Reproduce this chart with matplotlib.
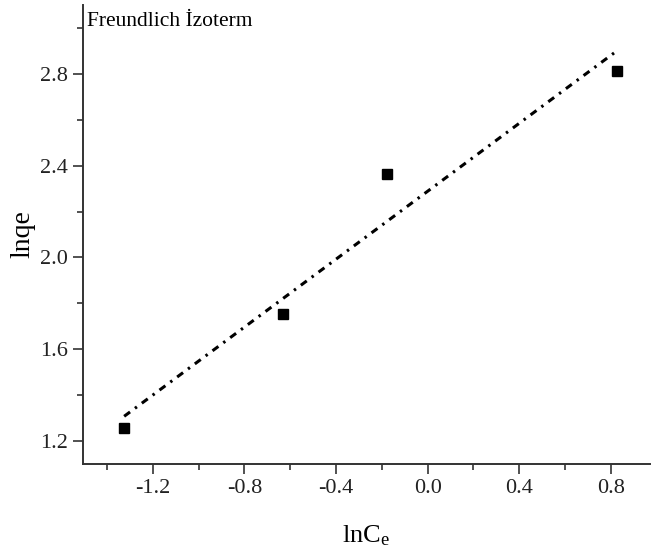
import matplotlib.pyplot as plt
import numpy as np

plt.rcParams['font.family'] = ['Liberation Serif', 'DejaVu Serif']
plt.rcParams['mathtext.fontset'] = 'custom'
plt.rcParams['mathtext.rm'] = 'Liberation Serif'

lnCe = [-1.325, -0.630, -0.176, 0.828]
lnqe = [1.258, 1.753, 2.365, 2.813]
xticks = [-1.2, -0.8, -0.4, 0.0, 0.4, 0.8]
yticks = [1.2, 1.6, 2.0, 2.4, 2.8]

fig = plt.figure(figsize=(6.53, 5.55), dpi=100)
ax = fig.add_axes([0.127, 0.164, 0.868, 0.827])

# linear fit of the points
k, b = np.polyfit(lnCe, lnqe, 1)
xf = np.array([min(lnCe), max(lnCe)])
ax.plot(xf, k * xf + b, color='black', lw=2.2, dashes=(2.4, 2.0, 0.8, 2.0))
ax.plot(lnCe, lnqe, 's', color='black', ms=6.8)

ax.set_xlim(-1.505, 0.97)
ax.set_ylim(1.1, 3.1)
ax.set_xticks(xticks)
ax.set_xticklabels(['%.1f' % v for v in xticks])
ax.set_yticks(yticks)
ax.set_yticklabels(['%.1f' % v for v in yticks])
ax.set_xticks([-1.4, -1.0, -0.6, -0.2, 0.2, 0.6], minor=True)
ax.set_yticks([1.4, 1.8, 2.2, 2.6, 3.0], minor=True)

for s in ['top', 'right']:
    ax.spines[s].set_visible(False)
for s in ['left', 'bottom']:
    ax.spines[s].set_linewidth(1.4)
    ax.spines[s].set_color('#333333')

ax.tick_params(which='major', direction='out', length=7, width=1.2, color='#333333',
               labelsize=16, labelcolor='#222222', pad=4)
ax.tick_params(which='minor', direction='out', length=4, width=1.2, color='#333333')

ax.set_xlabel(r'$\mathregular{lnC_e}$', fontsize=19, labelpad=18)
ax.set_ylabel('lnqe', fontsize=20, labelpad=3)

ax.text(0.008, 0.985, 'Freundlich İzoterm', transform=ax.transAxes,
        fontsize=15.5, va='top', ha='left')

fig.savefig('out.png', dpi=100)
